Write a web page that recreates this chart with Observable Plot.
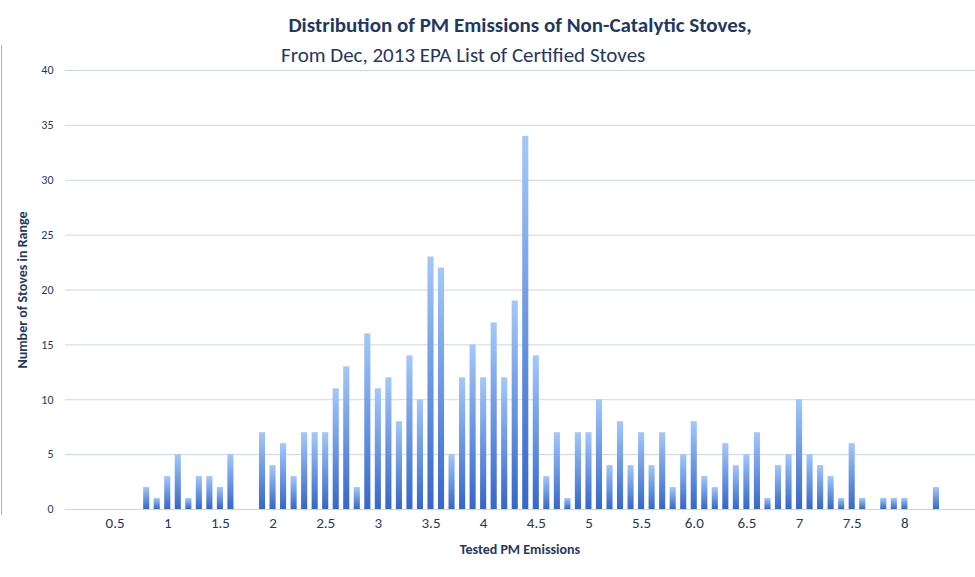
<!DOCTYPE html>
<html><head><meta charset="utf-8">
<script src="https://cdn.jsdelivr.net/npm/d3@7"></script>
<script src="https://cdn.jsdelivr.net/npm/@observablehq/plot@0.6"></script>
<style>
body{margin:0;background:#fff;font-family:Calibri,"Liberation Sans",Arial,sans-serif}
#wrap{position:relative;width:975px;height:577px}
.t{position:absolute;color:#1f3864;white-space:nowrap}
</style></head><body>
<div id="wrap">
<div class="t" style="left:0;width:1040px;text-align:center;top:12px;font-size:21px;font-weight:bold">Distribution of PM Emissions of Non-Catalytic Stoves,</div>
<div class="t" style="left:281px;top:42px;font-size:21px">From Dec, 2013 EPA List of Certified Stoves</div>
</div>
<script>
const emissions = [0.8,0.9,1.0,1.1,1.2,1.3,1.4,1.5,1.6,1.9,2.0,2.1,2.2,2.3,2.4,2.5,2.6,2.7,2.8,2.9,3.0,3.1,3.2,3.3,3.4,3.5,3.6,3.7,3.8,3.9,4.0,4.1,4.2,4.3,4.4,4.5,4.6,4.7,4.8,4.9,5.0,5.1,5.2,5.3,5.4,5.5,5.6,5.7,5.8,5.9,6.0,6.1,6.2,6.3,6.4,6.5,6.6,6.7,6.8,6.9,7.0,7.1,7.2,7.3,7.4,7.5,7.6,7.8,7.9,8.0,8.3];
const counts =    [2,1,3,5,1,3,3,2,5,7,4,6,3,7,7,7,11,13,2,16,11,12,8,14,10,23,22,5,12,15,12,17,12,19,34,14,3,7,1,7,7,10,4,8,4,7,4,7,2,5,8,3,2,6,4,5,7,1,4,5,10,5,4,3,1,6,1,1,1,1,2];
const tickValues = [0.5,1,1.5,2,2.5,3,3.5,4,4.5,5,5.5,6,6.5,7,7.5,8];
const tickLabels = ["0.5","1","1.5","2","2.5","3","3.5","4","4.5","5","5.5","6.0","6.5","7","7.5","8"];
const yTicks = [0,5,10,15,20,25,30,35,40];

const domain = d3.range(1, 87).map(i => (i/10).toFixed(1));
const data = emissions.map((e,i)=>({x:e.toFixed(1), y:counts[i]}));
const labelMap = new Map(tickValues.map((v,i)=>[v.toFixed(1), tickLabels[i]]));

const chart = Plot.plot({
  width: 975, height: 577,
  marginLeft: 65, marginRight: 0, marginTop: 70, marginBottom: 68,
  style:{fontFamily:'Calibri,"Liberation Sans",Arial,sans-serif', color:"#1f3864"},
  x:{type:"band", domain, padding:0.42, label:null, ticks: tickValues.map(v=>v.toFixed(1)), tickFormat:d=>labelMap.get(d), tickSize:0, tickPadding:8},
  y:{domain:[0,40], ticks:yTicks, label:null, tickSize:0, tickPadding:12},
  marks:[
    () => { const s = d3.create("svg:defs");
      const g = s.append("linearGradient").attr("id","bg").attr("x1",0).attr("x2",0).attr("y1",0).attr("y2",1);
      g.append("stop").attr("offset","0%").attr("stop-color","#a4c8fa");
      g.append("stop").attr("offset","100%").attr("stop-color","#3567c9");
      return s.node(); },
    Plot.gridY(yTicks,{stroke:"#c9d6ea", strokeOpacity:1}),
    Plot.barY(data,{x:"x", y:"y", fill:"url(#bg)"}),
    Plot.ruleX([0],{x:()=>0, stroke:"#c9d6ea"})
  ]
});
chart.style.position="absolute"; chart.style.left="0"; chart.style.top="0";
d3.select(chart).selectAll("[aria-label='x-axis tick label'] text").style("font-size","15px");
d3.select(chart).selectAll("[aria-label='y-axis tick label'] text").style("font-size","12px");
const wrap = document.getElementById("wrap");
wrap.prepend(chart);
const lx = document.createElement("div"); lx.className="t";
lx.style.cssText="left:0;width:1040px;text-align:center;top:541px;font-size:14px;font-weight:bold";
lx.textContent="Tested PM Emissions"; wrap.appendChild(lx);
const ly = document.createElement("div"); ly.className="t";
ly.style.cssText="left:22px;top:290px;font-size:14px;font-weight:bold;transform:translate(-50%,-50%) rotate(-90deg)";
ly.textContent="Number of Stoves in Range"; wrap.appendChild(ly);
const bl = document.createElement("div");
bl.style.cssText="position:absolute;left:1px;top:45px;width:1px;height:470px;background:#9fb6dd";
wrap.appendChild(bl);
</script>
</body></html>
